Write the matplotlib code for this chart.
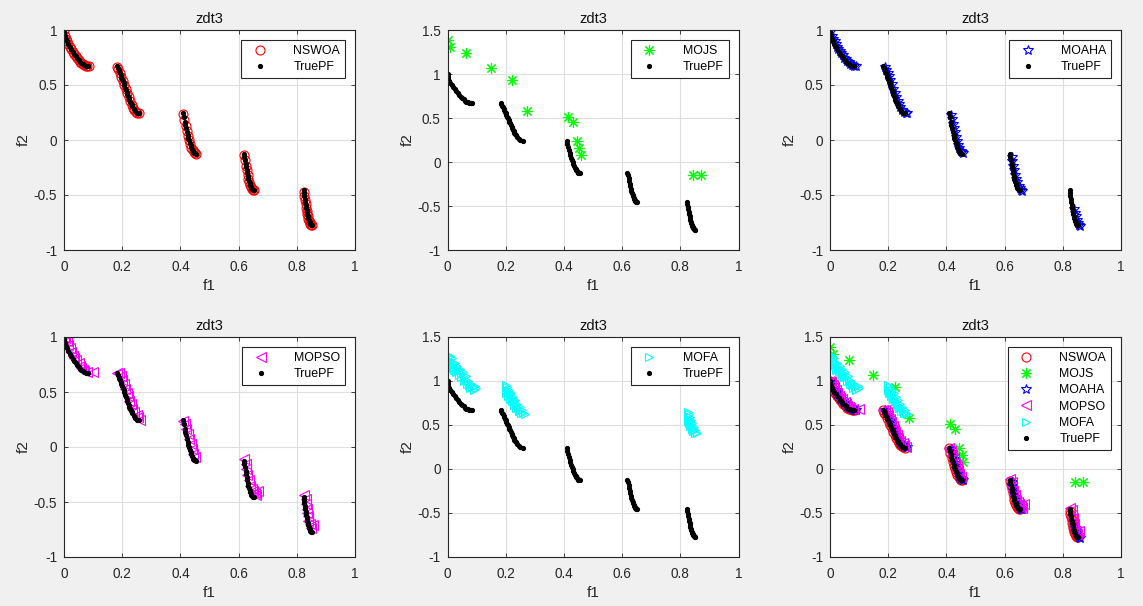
import matplotlib
matplotlib.use('Agg')
import matplotlib.pyplot as plt

plt.rcParams['font.family'] = ['Liberation Sans', 'DejaVu Sans']

# ---- TruePF of zdt3 (five segments) ----
pf_f1 = [0.0, 0.001, 0.003, 0.006, 0.010, 0.015, 0.020, 0.025, 0.030, 0.035, 0.040, 0.045, 0.050,
         0.055, 0.060, 0.065, 0.070, 0.075, 0.080, 0.083,
         0.1822, 0.185, 0.1875, 0.190, 0.1925, 0.195, 0.1975, 0.200, 0.2025, 0.205, 0.2075, 0.210,
         0.2125, 0.215, 0.2175, 0.220, 0.2225, 0.225, 0.2275, 0.230, 0.2325, 0.235, 0.240, 0.245,
         0.250, 0.2578,
         0.4093, 0.412, 0.415, 0.4175, 0.420, 0.4225, 0.425, 0.4275, 0.430, 0.4325, 0.435, 0.4375,
         0.440, 0.4425, 0.445, 0.4475, 0.450, 0.4539,
         0.6184, 0.620, 0.622, 0.624, 0.626, 0.628, 0.630, 0.632, 0.634, 0.636, 0.638, 0.640, 0.642,
         0.644, 0.646, 0.649, 0.6525,
         0.8233, 0.8245, 0.826, 0.8275, 0.829, 0.8305, 0.832, 0.8335, 0.835, 0.8365, 0.838, 0.8395,
         0.841, 0.8425, 0.844, 0.8455, 0.847, 0.8495, 0.8518]
pf_f2 = [1.0, 0.9684, 0.9449, 0.9214, 0.8969, 0.8707, 0.8468, 0.8242, 0.8025, 0.7817, 0.7620, 0.7434, 0.7264,
         0.7112, 0.6980, 0.6871, 0.6788, 0.6731, 0.6702, 0.6697,
         0.6699, 0.6539, 0.6388, 0.6228, 0.6062, 0.5889, 0.5711, 0.5528, 0.5341, 0.5151, 0.4961, 0.4768,
         0.4577, 0.4387, 0.4200, 0.4017, 0.3838, 0.3666, 0.3500, 0.3343, 0.3196, 0.3058, 0.2818, 0.2630,
         0.2500, 0.2422,
         0.2423, 0.2064, 0.1674, 0.1358, 0.1050, 0.0756, 0.0476, 0.0211, -0.0036, -0.0263, -0.0471, -0.0656,
         -0.0818, -0.0955, -0.1066, -0.1151, -0.1208, -0.1242,
         -0.1243, -0.1518, -0.1851, -0.2170, -0.2476, -0.2764, -0.3034, -0.3286, -0.3518, -0.3730, -0.3919,
         -0.4087, -0.4230, -0.4351, -0.4446, -0.4543, -0.4583,
         -0.4579, -0.4818, -0.5110, -0.5389, -0.5656, -0.5907, -0.6146, -0.6370, -0.6578, -0.6770, -0.6946,
         -0.7104, -0.7247, -0.7371, -0.7478, -0.7565, -0.7636, -0.7711, -0.7733]

# ---- NSWOA ----
nswoa_f1 = [0.0, 0.003, 0.006, 0.010, 0.015, 0.020, 0.025, 0.030, 0.035, 0.040, 0.045, 0.050, 0.055, 0.060,
            0.065, 0.070, 0.075, 0.080, 0.085,
            0.183, 0.187, 0.192, 0.197, 0.202, 0.207, 0.212, 0.217, 0.222, 0.227, 0.232, 0.237, 0.242,
            0.247, 0.252, 0.258,
            0.410, 0.414, 0.418, 0.422, 0.426, 0.430, 0.434, 0.438, 0.442, 0.446, 0.450, 0.455,
            0.619, 0.622, 0.625, 0.628, 0.631, 0.634, 0.637, 0.640, 0.643, 0.646, 0.650, 0.654,
            0.824, 0.826, 0.828, 0.830, 0.832, 0.834, 0.836, 0.838, 0.840, 0.842, 0.844, 0.847, 0.850, 0.853]
nswoa_f2 = [1.0, 0.945, 0.921, 0.897, 0.871, 0.847, 0.824, 0.803, 0.782, 0.762, 0.743, 0.726, 0.711, 0.698,
            0.687, 0.679, 0.673, 0.670, 0.669,
            0.665, 0.641, 0.608, 0.575, 0.538, 0.500, 0.462, 0.424, 0.387, 0.353, 0.322, 0.295, 0.274,
            0.257, 0.247, 0.242,
            0.235, 0.180, 0.130, 0.081, 0.037, -0.004, -0.039, -0.069, -0.092, -0.110, -0.121, -0.124,
            -0.135, -0.185, -0.232, -0.276, -0.316, -0.352, -0.383, -0.409, -0.430, -0.445, -0.456, -0.459,
            -0.472, -0.511, -0.548, -0.582, -0.615, -0.644, -0.670, -0.695, -0.716, -0.735, -0.748, -0.764,
            -0.772, -0.774]

# ---- MOJS ----
mojs_f1 = [0.0, 0.010, 0.064, 0.148, 0.222, 0.272, 0.413, 0.430, 0.444, 0.453, 0.458, 0.843, 0.870]
mojs_f2 = [1.387, 1.312, 1.240, 1.071, 0.928, 0.578, 0.510, 0.450, 0.239, 0.156, 0.077, -0.149, -0.149]

# ---- MOAHA ----
moaha_f1 = [0.004, 0.008, 0.012, 0.016, 0.020, 0.024, 0.029, 0.034, 0.039, 0.044, 0.049, 0.054, 0.059,
            0.064, 0.069, 0.074, 0.079, 0.084, 0.090,
            0.189, 0.194, 0.198, 0.202, 0.207, 0.212, 0.217, 0.222, 0.227, 0.232, 0.237, 0.242, 0.247,
            0.254, 0.260, 0.265,
            0.415, 0.418, 0.422, 0.425, 0.429, 0.433, 0.437, 0.441, 0.445, 0.449, 0.453, 0.458,
            0.624, 0.627, 0.630, 0.633, 0.636, 0.640, 0.644, 0.648, 0.652, 0.656, 0.660,
            0.838, 0.842, 0.845, 0.848, 0.851, 0.855, 0.858]
moaha_f2 = [0.99, 0.95, 0.92, 0.90, 0.87, 0.85, 0.83, 0.81, 0.79, 0.77, 0.75, 0.735, 0.72,
            0.705, 0.695, 0.685, 0.678, 0.674, 0.672,
            0.665, 0.640, 0.612, 0.585, 0.548, 0.508, 0.468, 0.430, 0.392, 0.357, 0.326, 0.298, 0.276,
            0.256, 0.246, 0.245,
            0.225, 0.19, 0.15, 0.11, 0.07, 0.03, -0.01, -0.045, -0.075, -0.098, -0.113, -0.122,
            -0.15, -0.19, -0.235, -0.275, -0.315, -0.35, -0.385, -0.415, -0.44, -0.455, -0.46,
            -0.625, -0.665, -0.695, -0.725, -0.75, -0.77, -0.78]

# ---- MOPSO ----
mopso_f1 = [0.0, 0.005, 0.010, 0.015, 0.020, 0.025, 0.030, 0.035, 0.040, 0.050, 0.055, 0.060, 0.065,
            0.070, 0.080, 0.100,
            0.182, 0.190, 0.195, 0.200, 0.205, 0.210, 0.215, 0.220, 0.225, 0.230, 0.235, 0.240, 0.250,
            0.255, 0.260,
            0.410, 0.415, 0.420, 0.425, 0.430, 0.435, 0.440, 0.445, 0.450,
            0.620, 0.625, 0.625, 0.630, 0.635, 0.640, 0.645, 0.650, 0.655, 0.665, 0.660,
            0.825, 0.830, 0.830, 0.835, 0.835, 0.840, 0.840, 0.845, 0.855, 0.850]
mopso_f2 = [1.00, 0.99, 0.96, 0.93, 0.90, 0.86, 0.83, 0.81, 0.79, 0.76, 0.74, 0.72, 0.70,
            0.69, 0.68, 0.68,
            0.67, 0.67, 0.65, 0.61, 0.57, 0.53, 0.49, 0.46, 0.42, 0.39, 0.35, 0.32, 0.29,
            0.27, 0.25,
            0.24, 0.21, 0.16, 0.12, 0.07, 0.03, -0.02, -0.06, -0.09,
            -0.11, -0.15, -0.20, -0.25, -0.30, -0.35, -0.38, -0.40, -0.42, -0.40, -0.44,
            -0.44, -0.47, -0.52, -0.56, -0.60, -0.63, -0.67, -0.70, -0.71, -0.74]

# ---- MOFA ----
mofa_f1 = [0.002, 0.002, 0.003, 0.004, 0.008, 0.010, 0.012, 0.015, 0.018, 0.020, 0.022, 0.025, 0.028,
           0.030, 0.033, 0.036, 0.040, 0.042, 0.045, 0.048, 0.052, 0.055, 0.058, 0.062, 0.065, 0.068,
           0.072, 0.075, 0.078, 0.082, 0.085, 0.090, 0.095, 0.098,
           0.200, 0.200, 0.202, 0.205, 0.207, 0.209, 0.212, 0.214, 0.216, 0.219, 0.221, 0.223, 0.226,
           0.228, 0.230, 0.233, 0.235, 0.237, 0.240, 0.242, 0.244, 0.248, 0.250, 0.253, 0.257, 0.260, 0.265,
           0.826, 0.826, 0.827, 0.829, 0.830, 0.831, 0.833, 0.834, 0.835, 0.837, 0.838, 0.839, 0.841,
           0.842, 0.843, 0.846, 0.847, 0.849, 0.852, 0.857]
mofa_f2 = [1.30, 1.25, 1.20, 1.16, 1.28, 1.23, 1.18, 1.26, 1.21, 1.15, 1.12, 1.20, 1.15,
           1.10, 1.17, 1.12, 1.07, 1.14, 1.09, 1.04, 1.10, 1.05, 1.00, 1.06, 1.01, 0.97,
           1.00, 0.95, 0.92, 0.97, 0.93, 0.90, 0.94, 0.92,
           0.95, 0.90, 0.86, 0.93, 0.88, 0.83, 0.90, 0.85, 0.80, 0.86, 0.81, 0.77, 0.82,
           0.77, 0.73, 0.78, 0.73, 0.69, 0.74, 0.69, 0.66, 0.70, 0.66, 0.64, 0.67, 0.64, 0.63,
           0.65, 0.60, 0.55, 0.62, 0.57, 0.52, 0.59, 0.54, 0.49, 0.56, 0.51, 0.46, 0.52,
           0.47, 0.43, 0.48, 0.44, 0.41, 0.44, 0.41]

# style of each algorithm: (f1, f2, marker, colour, markersize)
algs = {
    'NSWOA': (nswoa_f1, nswoa_f2, 'o', 'red', 6.5),
    'MOJS': (mojs_f1, mojs_f2, (8, 2, 0), 'lime', 8),
    'MOAHA': (moaha_f1, moaha_f2, '*', 'blue', 7),
    'MOPSO': (mopso_f1, mopso_f2, '<', 'magenta', 6.5),
    'MOFA': (mofa_f1, mofa_f2, '>', 'cyan', 5.5),
}

panels = [['NSWOA'], ['MOJS'], ['MOAHA'], ['MOPSO'], ['MOFA'],
          ['NSWOA', 'MOJS', 'MOAHA', 'MOPSO', 'MOFA']]
ytop = [1, 1.5, 1, 1, 1.5, 1.5]

W, H = 1143, 606
lefts = [64, 447.5, 830]
tops = [30, 337]
fig = plt.figure(figsize=(W / 100, H / 100), dpi=100, facecolor='#f0f0f0')

for k, names in enumerate(panels):
    r, c = divmod(k, 3)
    ax = fig.add_axes([lefts[c] / W, (H - tops[r] - 220) / H, 291 / W, 220 / H])
    ax.set_facecolor('white')
    for nm in names:
        f1, f2, mk, col, ms = algs[nm]
        ax.plot(f1, f2, linestyle='none', marker=mk, markersize=ms, markerfacecolor='none',
                markeredgecolor=col, markeredgewidth=0.8, label=nm)
    ax.plot(pf_f1, pf_f2, linestyle='none', marker='.', markersize=5.5, color='black', label='TruePF')

    ax.set_xlim(0, 1)
    ax.set_ylim(-1, ytop[k])
    ax.set_xticks([0, 0.2, 0.4, 0.6, 0.8, 1])
    ax.set_xticklabels(['0', '0.2', '0.4', '0.6', '0.8', '1'])
    if ytop[k] == 1:
        yt = [-1, -0.5, 0, 0.5, 1]
    else:
        yt = [-1, -0.5, 0, 0.5, 1, 1.5]
    ax.set_yticks(yt)
    ax.set_yticklabels([('%g' % v) for v in yt])
    ax.grid(True, color='#dedede', linewidth=0.8)
    ax.set_axisbelow(True)
    ax.tick_params(direction='in', length=3, width=0.6, colors='#262626', labelsize=9.8,
                   top=True, right=True)
    ax.tick_params(axis='x', pad=7)
    ax.tick_params(axis='y', pad=5)
    for sp in ax.spines.values():
        sp.set_color('#262626')
        sp.set_linewidth(0.8)
    ax.set_title('zdt3', fontsize=10.5, color='#111111', pad=5)
    ax.set_xlabel('f1', fontsize=11, color='#262626', labelpad=4)
    ax.set_ylabel('f2', fontsize=11, color='#262626', labelpad=2)
    leg = ax.legend(loc='upper right', fontsize=8.9, frameon=True, fancybox=False, framealpha=1,
                    edgecolor='#262626', borderaxespad=0.8, handletextpad=1.6, handlelength=2.2,
                    labelspacing=0.35, borderpad=0.4)
    leg.get_frame().set_linewidth(0.8)

fig.savefig('out.png', dpi=100, facecolor=fig.get_facecolor())
